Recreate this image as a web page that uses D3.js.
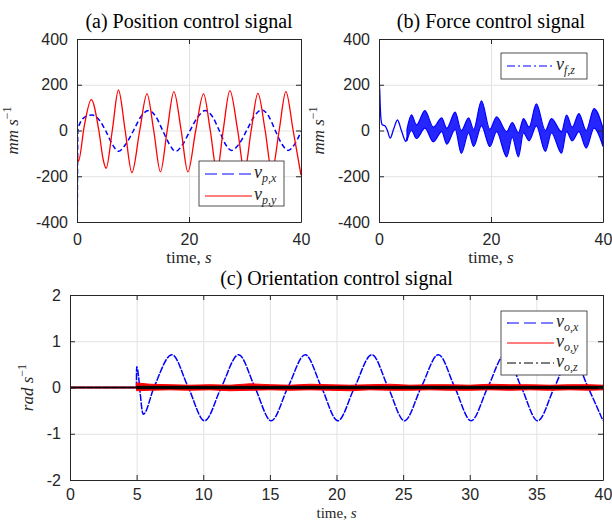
<!DOCTYPE html>
<html>
<head>
<meta charset="utf-8">
<script src="https://cdn.jsdelivr.net/npm/d3@7"></script>
<style>
  body { margin: 0; background: #fff; }
  svg { display: block; }
</style>
</head>
<body>
<div id="chart-area"></div>
<script>
// ---------- data ----------
// (a) position control signal, mm/s
const pxT = [0.05, 0.15, 0.5, 1.5, 2.7, 4.0, 5.1, 6.3, 7.4, 8.7, 10.1, 11.4, 12.8, 14.1, 15.3, 16.5, 17.6, 18.9, 20.2, 21.6, 22.9, 24.2, 25.4, 26.5, 27.6, 28.9, 30.3, 31.6, 33.0, 34.3, 35.4, 36.6, 37.7, 39.0, 40];
const pxV = [-400, 0, 30, 60, 68, 45, 0, -60, -91, -60, 0, 60, 87, 60, 0, -60, -91, -60, 0, 60, 87, 60, 0, -60, -87, -60, 0, 60, 90, 60, 0, -60, -87, -55, -5];
const pyT = [0, 0.25, 1.3, 2.55, 3.9, 4.7, 5.2, 6.3, 7.4, 8.6, 9.8, 11.2, 12.5, 13.7, 14.9, 16.1, 17.3, 18.6, 19.8, 21.2, 22.6, 23.8, 25.0, 26.1, 27.3, 28.7, 29.9, 31.1, 32.3, 33.6, 34.8, 36.1, 37.3, 38.6, 40];
const pyV = [-90, -135, 20, 135, 0, -130, -165, 0, 177, 0, -184, 0, 160, 0, -181, 0, 170, 0, -181, 0, 160, 0, -180, 0, 174, 0, -180, 0, 162, 0, -180, 0, 170, 0, -195];

// (b) force control signal, mm/s: smooth start, then noisy band (upper / lower envelope)
const fsT = [0, 0.1, 0.2, 0.35, 0.6, 1.1, 1.5, 2.0, 2.6, 3.3, 4.0, 4.8, 5.0];
const fsV = [40, 196, 120, 50, 25, 20, 0, -33, 5, 46, 0, -48, -30];
const fbT  = [5.0, 5.8, 6.7, 8.2, 9.7, 11.2, 12.1, 13.6, 14.7, 16.0, 16.9, 18.3, 19.8, 21.0, 22.8, 23.8, 24.9, 25.8, 26.8, 28.1, 29.7, 30.8, 32.6, 33.5, 34.5, 35.7, 37.0, 38.4, 40];
const fbHi = [5, 68, 25, 87, 15, 55, 10, 80, 0, 55, 5, 130, 5, 60, -5, 35, -10, 52, 15, 116, 0, 52, -5, 67, 15, 74, 0, 96, 10];
const fbLo = [-45, 0, -35, 10, -50, -5, -60, 5, -100, -10, -70, 20, -70, -5, -115, -30, -115, -10, -45, 20, -91, -10, -99, -5, -45, -5, -77, 10, -70];

// (c) orientation control signal, rad/s
const oxT = [0, 4.98, 5.0, 5.5, 6.3, 7.65, 8.88, 10.1, 11.35, 12.65, 13.88, 15.1, 16.35, 17.65, 18.88, 20.1, 21.35, 22.65, 23.88, 25.1, 26.35, 27.65, 28.88, 30.1, 31.35, 32.65, 33.88, 35.1, 36.35, 37.65, 38.88, 40];
const oxV = [0, 0, 0.45, -0.58, 0, 0.71, 0, -0.72, 0, 0.71, 0, -0.72, 0, 0.71, 0, -0.72, 0, 0.71, 0, -0.72, 0, 0.71, 0, -0.72, 0, 0.71, 0, -0.72, 0, 0.71, 0, -0.72];
const oyT  = [0, 4.98, 5.0, 6.0, 7.5, 9.0, 10.5, 12.0, 13.5, 15.0, 16.5, 18.0, 19.5, 21.0, 22.5, 24.0, 25.5, 27.0, 28.5, 30.0, 31.5, 33.0, 34.5, 36.0, 37.5, 39.0, 40];
const oyHi = [0.01, 0.01, 0.1, 0.07, 0.06, 0.05, 0.06, 0.05, 0.08, 0.06, 0.05, 0.07, 0.06, 0.05, 0.06, 0.07, 0.05, 0.06, 0.06, 0.05, 0.07, 0.06, 0.06, 0.05, 0.06, 0.06, 0.05];
const oyLo = [-0.01, -0.01, -0.07, -0.06, -0.05, -0.06, -0.05, -0.07, -0.06, -0.05, -0.06, -0.05, -0.06, -0.07, -0.05, -0.06, -0.06, -0.05, -0.06, -0.06, -0.05, -0.06, -0.05, -0.06, -0.05, -0.06, -0.05];
const ozT  = [0, 4.98, 5.0, 40];
const ozHi = [0.008, 0.008, 0.025, 0.025];
const ozLo = [-0.008, -0.008, -0.025, -0.025];

// ticks and labels
const ticksTopX = [0, 20, 40];
const ticksTopY = [-400, -200, 0, 200, 400];
const ticksBotX = [0, 5, 10, 15, 20, 25, 30, 35, 40];
const ticksBotY = [-2, -1, 0, 1, 2];
const titles = ["(a) Position control signal", "(b) Force control signal", "(c) Orientation control signal"];
const legA = ["p,x", "p,y"];
const legB = ["f,z"];
const legC = ["o,x", "o,y", "o,z"];

// ---------- drawing ----------
const svg = d3.select("#chart-area")
  .append("svg")
  .attr("width", 612)
  .attr("height", 521);

const axisColor = "#262626";
const gridColor = "#e2e2e2";
const serif = "'Liberation Serif', 'Times New Roman', serif";
const sans = "'Liberation Sans', Arial, sans-serif";

function zip(t, v) { return t.map((d, i) => [d, v[i]]); }

let clipId = 0;
function makePanel(p) {
  const x = d3.scaleLinear().domain(p.xDomain).range([p.left, p.right]);
  const y = d3.scaleLinear().domain(p.yDomain).range([p.bottom, p.top]);
  const h = p.bottom - p.top;
  const w = p.right - p.left;

  // grid
  const gx = svg.append("g")
    .attr("transform", `translate(0, ${p.bottom})`)
    .call(d3.axisBottom(x).tickValues(p.xTicks).tickSize(-h).tickFormat(""));
  const gy = svg.append("g")
    .attr("transform", `translate(${p.left}, 0)`)
    .call(d3.axisLeft(y).tickValues(p.yTicks).tickSize(-w).tickFormat(""));
  [gx, gy].forEach(g => {
    g.select(".domain").remove();
    g.selectAll("line").attr("stroke", gridColor);
  });

  // data layer, clipped to plot area
  const id = "clip" + (clipId++);
  svg.append("clipPath").attr("id", id)
    .append("rect")
    .attr("x", p.left).attr("y", p.top)
    .attr("width", w).attr("height", h);
  const data = svg.append("g").attr("clip-path", `url(#${id})`);

  // axes with inward ticks on all four sides
  const tick = 5;
  const bottom = svg.append("g")
    .attr("transform", `translate(0, ${p.bottom})`)
    .call(d3.axisBottom(x).tickValues(p.xTicks).tickSizeInner(-tick).tickSizeOuter(0)
      .tickPadding(p.xPad).tickFormat(d => String(d)));
  const left = svg.append("g")
    .attr("transform", `translate(${p.left}, 0)`)
    .call(d3.axisLeft(y).tickValues(p.yTicks).tickSizeInner(-tick).tickSizeOuter(0)
      .tickPadding(9).tickFormat(d => String(d)));
  const top = svg.append("g")
    .attr("transform", `translate(0, ${p.top})`)
    .call(d3.axisTop(x).tickValues(p.xTicks).tickSizeInner(-tick).tickSizeOuter(0).tickFormat(""));
  const right = svg.append("g")
    .attr("transform", `translate(${p.right}, 0)`)
    .call(d3.axisRight(y).tickValues(p.yTicks).tickSizeInner(-tick).tickSizeOuter(0).tickFormat(""));
  [bottom, left, top, right].forEach(g => {
    g.select(".domain").attr("stroke", axisColor);
    g.selectAll("line").attr("stroke", axisColor);
    g.selectAll("text")
      .attr("fill", axisColor)
      .attr("font-family", sans)
      .attr("font-size", 16);
  });

  // title
  svg.append("text")
    .attr("x", (p.left + p.right) / 2)
    .attr("y", p.titleY)
    .attr("text-anchor", "middle")
    .attr("font-family", serif)
    .attr("font-size", 20)
    .attr("fill", "#000")
    .text(p.title);

  // x label "time, s"
  const xl = svg.append("text")
    .attr("x", (p.left + p.right) / 2)
    .attr("y", p.xLabelY)
    .attr("text-anchor", "middle")
    .attr("font-family", serif)
    .attr("font-size", p.xLabelSize)
    .attr("fill", axisColor);
  xl.append("tspan").text("time, ");
  xl.append("tspan").attr("font-style", "italic").text("s");

  // y label
  const yl = svg.append("text")
    .attr("transform", `translate(${p.yLabelX}, ${(p.top + p.bottom) / 2}) rotate(-90)`)
    .attr("text-anchor", "middle")
    .attr("font-family", serif)
    .attr("font-size", 17)
    .attr("fill", axisColor);
  yl.append("tspan").attr("font-style", "italic").text(p.yUnit + " s");
  yl.append("tspan").attr("font-size", 12).attr("dy", -7).text("\u22121");

  return { x, y, data };
}

function legend(b, labels, styles) {
  const g = svg.append("g");
  g.append("rect")
    .attr("x", b.x).attr("y", b.y)
    .attr("width", b.w).attr("height", b.h)
    .attr("fill", "#fff")
    .attr("stroke", axisColor)
    .attr("stroke-width", 0.8);
  labels.forEach((lab, i) => {
    const yy = b.y + b.first + i * b.step;
    const s = styles[i];
    g.append("line")
      .attr("x1", b.x + 6).attr("x2", b.x + 53)
      .attr("y1", yy).attr("y2", yy)
      .attr("stroke", s.color)
      .attr("stroke-width", 1.2)
      .attr("stroke-dasharray", s.dash || null);
    const t = g.append("text")
      .attr("x", b.x + 55)
      .attr("y", yy + 4)
      .attr("font-family", serif)
      .attr("font-style", "italic")
      .attr("font-size", 18)
      .attr("fill", axisColor);
    t.append("tspan").text("v");
    t.append("tspan").attr("font-size", 12).attr("dy", 4).text(lab);
  });
}

// ---- panel (a)
const A = makePanel({
  left: 77, right: 301, top: 39, bottom: 222,
  xDomain: [0, 40], yDomain: [-400, 400],
  xTicks: ticksTopX, yTicks: ticksTopY, xPad: 12,
  title: titles[0], titleY: 28, xLabelY: 263, xLabelSize: 17, yLabelX: 18, yUnit: "mm"
});
const lineA = d3.line().x(d => A.x(d[0])).y(d => A.y(d[1])).curve(d3.curveMonotoneX);
A.data.append("path").datum(zip(pxT, pxV))
  .attr("d", lineA).attr("fill", "none")
  .attr("stroke", "#0000ff").attr("stroke-width", 1.5).attr("stroke-dasharray", "5,3");
A.data.append("path").datum(zip(pyT, pyV))
  .attr("d", lineA).attr("fill", "none")
  .attr("stroke", "#ff0000").attr("stroke-width", 1.3);
legend({ x: 199, y: 161, w: 85, h: 45, first: 13, step: 22 }, legA,
  [{ color: "#0000ff", dash: "12,5" }, { color: "#ff0000" }]);

// ---- panel (b)
const B = makePanel({
  left: 379, right: 603, top: 39, bottom: 222,
  xDomain: [0, 40], yDomain: [-400, 400],
  xTicks: ticksTopX, yTicks: ticksTopY, xPad: 12,
  title: titles[1], titleY: 28, xLabelY: 263, xLabelSize: 17, yLabelX: 324, yUnit: "mm"
});
const lineB = d3.line().x(d => B.x(d[0])).y(d => B.y(d[1])).curve(d3.curveMonotoneX);
B.data.append("path").datum(zip(fsT, fsV))
  .attr("d", lineB).attr("fill", "none")
  .attr("stroke", "#0000ff").attr("stroke-width", 1.3);
const areaB = d3.area()
  .x((d, i) => B.x(fbT[i]))
  .y0((d, i) => B.y(fbLo[i]))
  .y1((d, i) => B.y(fbHi[i]))
  .curve(d3.curveMonotoneX);
B.data.append("path").datum(fbT)
  .attr("d", areaB)
  .attr("fill", "#0000ff").attr("fill-opacity", 0.85)
  .attr("stroke", "#0000ff").attr("stroke-width", 1.2);
legend({ x: 501, y: 53, w: 86, h: 26, first: 13, step: 20 }, legB,
  [{ color: "#0000ff", dash: "8,3,2,3" }]);

// ---- panel (c)
const C = makePanel({
  left: 70, right: 603, top: 295, bottom: 480,
  xDomain: [0, 40], yDomain: [-2, 2],
  xTicks: ticksBotX, yTicks: ticksBotY, xPad: 9,
  title: titles[2], titleY: 285, xLabelY: 517.5, xLabelSize: 15, yLabelX: 33, yUnit: "rad"
});
const lineC = d3.line().x(d => C.x(d[0])).y(d => C.y(d[1])).curve(d3.curveMonotoneX);
C.data.append("path").datum(zip(oxT, oxV))
  .attr("d", lineC).attr("fill", "none")
  .attr("stroke", "#0000ff").attr("stroke-width", 1.5).attr("stroke-dasharray", "7,1.2");
function band(t, hi, lo, color) {
  const a = d3.area()
    .x((d, i) => C.x(t[i]))
    .y0((d, i) => C.y(lo[i]))
    .y1((d, i) => C.y(hi[i]));
  C.data.append("path").datum(t)
    .attr("d", a)
    .attr("fill", color)
    .attr("stroke", color).attr("stroke-width", 1);
}
band(oyT, oyHi, oyLo, "#ff0000");
band(ozT, ozHi, ozLo, "#000000");
legend({ x: 501, y: 311, w: 86, h: 64, first: 12, step: 20 }, legC,
  [{ color: "#0000ff", dash: "12,5" }, { color: "#ff0000" }, { color: "#000000", dash: "9,3,2,3" }]);
</script>
</body>
</html>
